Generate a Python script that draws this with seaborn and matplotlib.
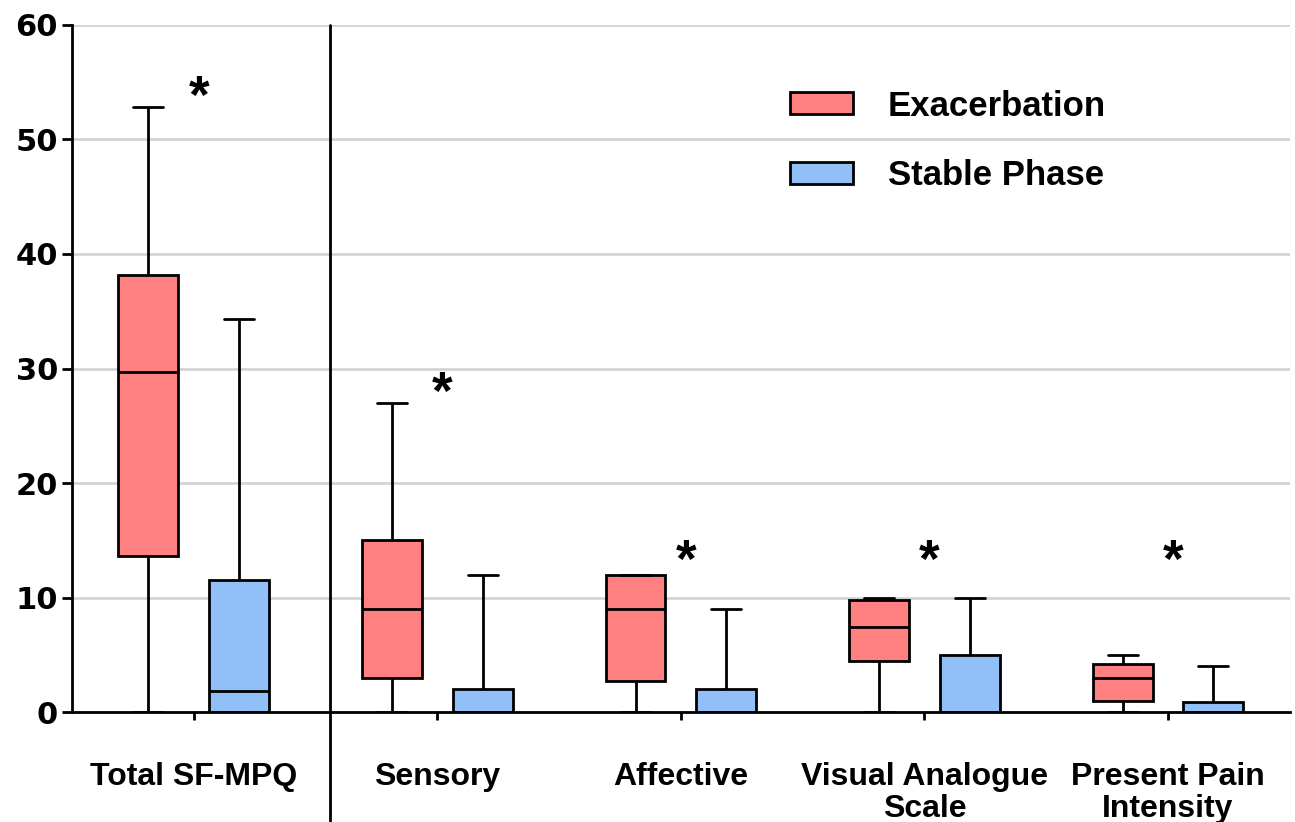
import numpy as np
import pandas as pd
import matplotlib
matplotlib.use("Agg")
import matplotlib.pyplot as plt
import seaborn as sns

measures = ["Total SF-MPQ", "Sensory", "Affective",
            "Visual Analogue\nScale", "Present Pain\nIntensity"]
phases = ["Exacerbation", "Stable Phase"]

exac_min = [0, 0, 0, 0, 0]
exac_q1 = [13.6, 3, 2.7, 4.45, 1]
exac_med = [29.7, 9, 9, 7.4, 3]
exac_q3 = [38.2, 15, 12, 9.8, 4.2]
exac_max = [52.8, 27, 12, 10, 5]

stable_min = [0, 0, 0, 0, 0]
stable_q1 = [0, 0, 0, 0, 0]
stable_med = [1.8, 0, 0, 0, 0]
stable_q3 = [11.5, 2, 2, 5, 0.9]
stable_max = [34.3, 12, 9, 10, 4]

# significance markers (baseline height of the asterisk)
star_y = [52.3, 26.5, 11.8, 11.8, 11.8]

yticks = [0, 10, 20, 30, 40, 50, 60]

# long table: five values per box give exactly those quartiles
rows = []
for i, m in enumerate(measures):
    for v in [exac_min[i], exac_q1[i], exac_med[i], exac_q3[i], exac_max[i]]:
        rows.append({"measure": m, "phase": phases[0], "value": v})
    for v in [stable_min[i], stable_q1[i], stable_med[i], stable_q3[i], stable_max[i]]:
        rows.append({"measure": m, "phase": phases[1], "value": v})
df = pd.DataFrame(rows)

sns.set_theme(style="white")
plt.rcParams['font.family'] = ['Liberation Sans', 'DejaVu Sans']
plt.rcParams['font.weight'] = 'bold'
plt.rcParams['text.color'] = 'black'
plt.rcParams['xtick.color'] = 'black'
plt.rcParams['ytick.color'] = 'black'
plt.rcParams['xtick.labelcolor'] = 'black'
plt.rcParams['ytick.labelcolor'] = 'black'

fig = plt.figure(figsize=(12.95, 8.22), dpi=100)
ax = fig.add_axes([0.0556, 0.1338, 0.9404, 0.8358])

ax.set_axisbelow(True)
ax.yaxis.grid(True, color="#d4d4d4", linewidth=2)

sns.boxplot(data=df, x="measure", y="value", hue="phase",
            order=measures, hue_order=phases,
            palette=["#ff8080", "#91c0f8"], saturation=1,
            whis=(0, 100), width=0.745, gap=0.34,
            linecolor="black", linewidth=2, ax=ax)

for i in range(len(measures)):
    ax.text(i + 0.02, star_y[i], "*", ha="center", va="baseline",
            fontsize=38, fontweight="bold", color="black")

# separator between total score and subscales
ax.axvline(0.56, ymin=-0.16, ymax=1, color="black", linewidth=2, clip_on=False)

ax.set_xlim(-0.5, 4.5)
ax.set_ylim(0, 60)
ax.set_yticks(yticks)
ax.set_xlabel("")
ax.set_ylabel("")

for s in ["top", "right"]:
    ax.spines[s].set_visible(False)
for s in ["left", "bottom"]:
    ax.spines[s].set_color("black")
    ax.spines[s].set_linewidth(2)

ax.tick_params(axis="y", direction="out", length=7, width=2, color="black", pad=3, left=True)
ax.tick_params(axis="x", direction="out", length=6, width=2, color="black", pad=30, bottom=True)
for lab in ax.get_yticklabels():
    lab.set_fontfamily("DejaVu Sans")
    lab.set_fontsize(22)
    lab.set_fontweight("bold")
    lab.set_color("black")
for lab in ax.get_xticklabels():
    lab.set_fontsize(23)
    lab.set_fontweight("bold")
    lab.set_color("black")
    lab.set_linespacing(1.1)

sns.move_legend(ax, "upper left", bbox_to_anchor=(0.5895, 0.906), frameon=False,
                title=None, fontsize=25, borderpad=0, borderaxespad=0,
                handlelength=1.82, handleheight=0.6, handletextpad=1.0,
                labelspacing=1.05)
for t in ax.get_legend().get_texts():
    t.set_color("black")

fig.savefig("out.png", dpi=100)
